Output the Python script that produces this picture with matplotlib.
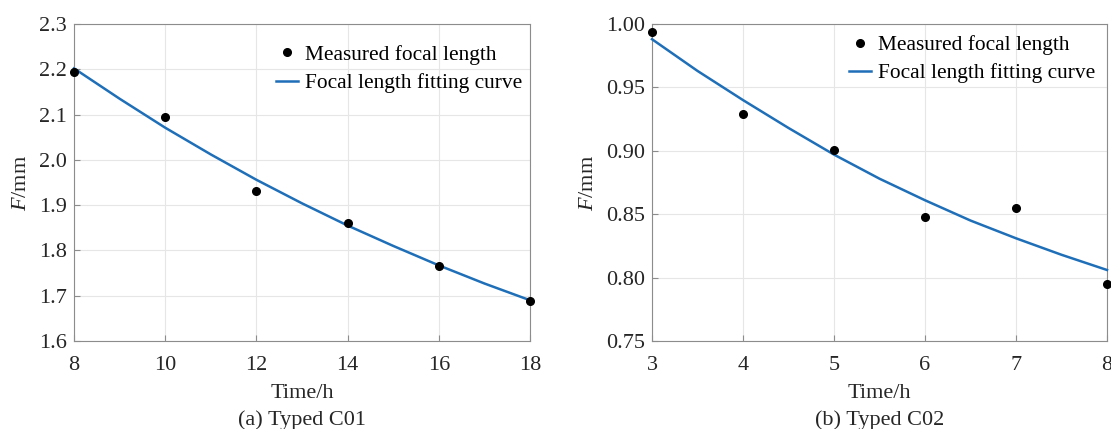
import matplotlib
matplotlib.use('Agg')
import matplotlib.pyplot as plt

plt.rcParams['font.family'] = ['Liberation Serif', 'DejaVu Serif']
plt.rcParams['mathtext.fontset'] = 'custom'
plt.rcParams['mathtext.it'] = 'Liberation Serif:italic'
plt.rcParams['mathtext.rm'] = 'Liberation Serif'

# (a) Typed C01
time_a = [8, 10, 12, 14, 16, 18]
meas_a = [2.195, 2.095, 1.932, 1.861, 1.765, 1.688]
fit_t_a = [8, 9, 10, 11, 12, 13, 14, 15, 16, 17, 18]
fit_a = [2.202, 2.135, 2.071, 2.012, 1.956, 1.904, 1.855, 1.810, 1.767, 1.727, 1.690]

# (b) Typed C02
time_b = [3, 4, 5, 6, 7, 8]
meas_b = [0.994, 0.929, 0.901, 0.848, 0.855, 0.795]
fit_t_b = [3, 3.5, 4, 4.5, 5, 5.5, 6, 6.5, 7, 7.5, 8]
fit_b = [0.988, 0.963, 0.940, 0.918, 0.897, 0.878, 0.861, 0.845, 0.831, 0.818, 0.806]

W, H = 1111, 429
fig = plt.figure(figsize=(W / 100, H / 100), dpi=100)
ax1 = fig.add_axes([74 / W, 1 - 341 / H, 456 / W, 317 / H])
ax2 = fig.add_axes([652 / W, 1 - 341 / H, 455 / W, 317 / H])

panels = [
    (ax1, time_a, meas_a, fit_t_a, fit_a, (8, 18), range(8, 19, 2), (1.6, 2.3),
     [1.6 + 0.1 * i for i in range(8)], '{:.1f}', '(a) Typed C01', (0.443, 0.934)),
    (ax2, time_b, meas_b, fit_t_b, fit_b, (3, 8), range(3, 9), (0.75, 1.0),
     [0.75 + 0.05 * i for i in range(6)], '{:.2f}', '(b) Typed C02', (0.433, 0.965)),
]

for ax, t, m, ft, f, xl, xt, yl, yt, fmt, cap, lpos in panels:
    ax.plot(ft, f, color='#1f6fb8', lw=1.8, label='Focal length fitting curve', zorder=3, clip_on=False)
    ax.plot(t, m, 'o', color='black', ms=5.5, label='Measured focal length', zorder=4, clip_on=False)
    ax.set_xlim(*xl)
    ax.set_ylim(*yl)
    ax.set_xticks(list(xt))
    ax.set_yticks(yt)
    ax.set_yticklabels([fmt.format(v) for v in yt])
    ax.grid(True, color='#e6e6e6', lw=0.8)
    ax.set_axisbelow(True)
    for s in ax.spines.values():
        s.set_color('#8c8c8c')
        s.set_linewidth(0.8)
    ax.tick_params(direction='in', length=4, color='#8c8c8c', labelsize=16,
                   labelcolor='#262626', top=False, right=False)
    ax.tick_params(axis='x', pad=11)
    ax.tick_params(axis='y', pad=5)
    ax.set_xlabel('Time/h', fontsize=16, color='#262626', labelpad=6)
    ax.set_ylabel('$F$/mm', fontsize=16, color='#262626', labelpad=6)
    # legend: dots first, then the curve
    h, l = ax.get_legend_handles_labels()
    ax.legend(h[::-1], l[::-1], loc='upper left', frameon=False, fontsize=15.4,
              handlelength=1.05, handletextpad=0.3, borderpad=0, borderaxespad=0,
              labelspacing=0.38, bbox_to_anchor=lpos)
    ax.text(0.5, -0.25, cap, transform=ax.transAxes, ha='center', va='center',
            fontsize=16, color='#262626')

fig.savefig('out.png', dpi=100)
